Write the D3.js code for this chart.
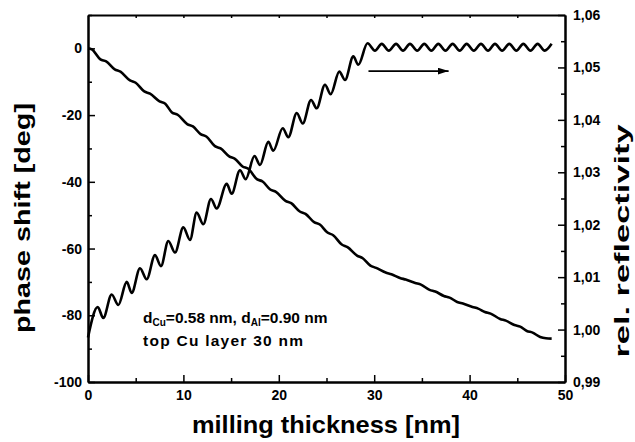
<!DOCTYPE html>
<html>
<head>
<meta charset="utf-8">
<script src="https://cdn.jsdelivr.net/npm/d3@7"></script>
<style>
  body { margin: 0; background: #fff; }
  svg { display: block; font-family: "Liberation Sans", Arial, sans-serif; }
  .axis text { font-size: 14px; font-weight: bold; fill: #000; }
  .axis path { stroke: #000; stroke-width: 2; }
  .axis line { stroke: #000; stroke-width: 1.5; }
</style>
</head>
<body>
<svg id="chart" width="635" height="442"></svg>
<script>
// phase shift [deg] vs milling thickness [nm] (left axis)
const phaseShift = [
  [0.0, 0.0], [0.4, -0.3],
  [1.3, -3.3], [1.9, -3.9],
  [2.8, -6.3], [3.4, -7.0],
  [4.4, -9.6], [5.0, -10.3],
  [5.9, -12.9], [6.5, -13.6],
  [7.5, -15.9], [8.1, -16.6],
  [8.8, -19.2], [9.4, -19.9],
  [10.4, -22.7], [11.0, -23.4],
  [11.8, -25.7], [12.4, -26.4],
  [13.3, -29.3], [13.9, -30.0],
  [14.8, -32.4], [15.4, -33.1],
  [16.2, -35.4], [16.8, -36.1],
  [17.7, -39.2], [18.3, -39.9],
  [19.1, -42.3], [19.7, -43.0],
  [20.7, -45.7], [21.3, -46.4],
  [22.2, -48.9], [22.8, -49.6],
  [23.7, -52.1], [24.3, -52.8],
  [25.1, -55.2], [25.7, -56.0],
  [26.6, -58.8], [27.2, -59.6],
  [28.2, -62.1], [28.8, -62.9],
  [29.6, -65.1], [30.2, -65.8],
  [31.2, -67.2], [31.8, -67.7],
  [32.7, -68.8], [33.3, -69.3],
  [34.3, -70.3], [34.9, -70.8],
  [35.8, -72.4], [36.4, -72.9],
  [37.3, -74.2], [37.9, -74.7],
  [38.7, -76.0], [39.3, -76.5],
  [40.3, -77.5], [40.9, -78.0],
  [41.6, -79.0], [42.2, -79.5],
  [43.2, -81.1], [43.8, -81.6],
  [44.7, -82.9], [45.3, -83.4],
  [46.0, -84.7], [46.6, -85.2],
  [47.4, -86.5], [48.0, -86.9],
  [48.6, -87.0]
];

// rel. reflectivity vs milling thickness [nm] (right axis), peaks and troughs
const reflectivity = [
  [0.00, 0.9985], [1.02, 1.0043], [1.60, 1.0022], [2.48, 1.0067], [3.18, 1.0047],
  [4.06, 1.0091], [4.58, 1.0070], [5.45, 1.0117], [6.15, 1.0096], [7.02, 1.0142],
  [7.65, 1.0121], [8.42, 1.0169], [9.12, 1.0147], [9.99, 1.0195], [10.69, 1.0171],
  [11.39, 1.0223], [12.09, 1.0201], [12.89, 1.0249], [13.49, 1.0231], [14.54, 1.0278],
  [15.06, 1.0259], [15.93, 1.0304], [16.53, 1.0287], [17.45, 1.0331], [18.03, 1.0314],
  [18.90, 1.0358], [19.42, 1.0341], [20.41, 1.0384], [21.00, 1.0367], [21.88, 1.0413],
  [22.51, 1.0393], [23.38, 1.0438], [23.97, 1.0422], [24.84, 1.0467], [25.44, 1.0449],
  [26.34, 1.0492], [26.94, 1.0476], [27.81, 1.0521], [28.33, 1.0505], [29.30, 1.0546],
  [30.08, 1.0532], [30.79, 1.0545], [31.53, 1.0532], [32.29, 1.0545], [33.02, 1.0532],
  [33.75, 1.0545], [34.51, 1.0532], [35.25, 1.0545], [35.99, 1.0532], [36.72, 1.0545],
  [37.47, 1.0532], [38.22, 1.0545], [38.96, 1.0532], [39.69, 1.0545], [40.44, 1.0532],
  [41.19, 1.0545], [41.93, 1.0532], [42.66, 1.0545], [43.41, 1.0532], [44.16, 1.0545],
  [44.90, 1.0532], [45.63, 1.0545], [46.38, 1.0532], [47.13, 1.0545], [47.87, 1.0532],
  [48.60, 1.0545]
];

const xTicks = [0, 10, 20, 30, 40, 50];
const xMinorTicks = [5, 15, 25, 35, 45];
const topTicks = [5, 10, 15, 20, 25, 30, 35, 40, 45];
const phaseTicks = [-100, -80, -60, -40, -20, 0];
const phaseMinorTicks = [-90, -70, -50, -30, -10, 10];
const reflTicks = [0.99, 1.00, 1.01, 1.02, 1.03, 1.04, 1.05, 1.06];
const reflMinorTicks = [0.995, 1.005, 1.015, 1.025, 1.035, 1.045, 1.055];

const margin = { top: 15, right: 70, bottom: 60, left: 88 };
const width = 635, height = 442;

const svg = d3.select('#chart');

const x = d3.scaleLinear().domain([0, 50]).range([margin.left, width - margin.right]);
const yPhase = d3.scaleLinear().domain([-100, 10]).range([height - margin.bottom, margin.top]);
const yRefl = d3.scaleLinear().domain([0.99, 1.06]).range([height - margin.bottom, margin.top]);

const bottom = height - margin.bottom;
const right = width - margin.right;

// plain hyphen minus like the original, not the unicode minus
const plain = d => String(d);

// minor ticks first (no labels)
svg.append('g').attr('class', 'axis')
    .attr('transform', `translate(0,${bottom})`)
    .call(d3.axisBottom(x).tickValues(xMinorTicks).tickSize(-4).tickSizeOuter(0).tickFormat(''));
svg.append('g').attr('class', 'axis')
    .attr('transform', `translate(0,${margin.top})`)
    .call(d3.axisTop(x).tickValues(topTicks).tickSize(-3).tickSizeOuter(0).tickFormat(''));
svg.append('g').attr('class', 'axis')
    .attr('transform', `translate(${margin.left},0)`)
    .call(d3.axisLeft(yPhase).tickValues(phaseMinorTicks).tickSize(-4).tickSizeOuter(0).tickFormat(''));
svg.append('g').attr('class', 'axis')
    .attr('transform', `translate(${right},0)`)
    .call(d3.axisRight(yRefl).tickValues(reflMinorTicks).tickSize(-4).tickSizeOuter(0).tickFormat(''));

// major ticks with labels
svg.append('g').attr('class', 'axis')
    .attr('transform', `translate(0,${bottom})`)
    .call(d3.axisBottom(x).tickValues(xTicks).tickSize(-7).tickSizeOuter(0).tickPadding(8).tickFormat(plain));
svg.append('g').attr('class', 'axis')
    .attr('transform', `translate(${margin.left},0)`)
    .call(d3.axisLeft(yPhase).tickValues(phaseTicks).tickSize(-7).tickSizeOuter(0).tickPadding(6).tickFormat(plain));
svg.append('g').attr('class', 'axis')
    .attr('transform', `translate(${right},0)`)
    .call(d3.axisRight(yRefl).tickValues(reflTicks).tickSize(-7).tickSizeOuter(0).tickPadding(8)
        .tickFormat(d => d3.format('.2f')(d).replace('.', ',')));

// curves
const phaseLine = d3.line()
    .x(d => x(d[0]))
    .y(d => yPhase(d[1]))
    .curve(d3.curveMonotoneX);
const reflLine = d3.line()
    .x(d => x(d[0]))
    .y(d => yRefl(d[1]))
    .curve(d3.curveMonotoneX);

svg.append('path')
    .datum(phaseShift)
    .attr('d', phaseLine)
    .attr('fill', 'none')
    .attr('stroke', '#000')
    .attr('stroke-width', 2.6);

svg.append('path')
    .datum(reflectivity)
    .attr('d', reflLine)
    .attr('fill', 'none')
    .attr('stroke', '#000')
    .attr('stroke-width', 2.6);

// arrow pointing to the right axis
svg.append('defs').append('marker')
    .attr('id', 'head')
    .attr('viewBox', '0 0 11 7')
    .attr('refX', 11).attr('refY', 3.5)
    .attr('markerWidth', 11).attr('markerHeight', 7)
    .attr('markerUnits', 'userSpaceOnUse')
    .attr('orient', 'auto')
  .append('path')
    .attr('d', 'M0,0 L11,3.5 L0,7 Z')
    .attr('fill', '#000');

svg.append('line')
    .attr('x1', x(29.4)).attr('x2', x(37.8))
    .attr('y1', yRefl(1.0493)).attr('y2', yRefl(1.0493))
    .attr('stroke', '#000')
    .attr('stroke-width', 1.6)
    .attr('marker-end', 'url(#head)');

// annotation
const note = svg.append('g')
    .style('font-size', '15.5px')
    .style('font-weight', 'bold');

const line1 = note.append('text').attr('x', x(5.77)).attr('y', yPhase(-82.3));
line1.append('tspan').text('d');
line1.append('tspan').attr('dy', 3).style('font-size', '10px').text('Cu');
line1.append('tspan').attr('dy', -3).text('=0.58 nm, d');
line1.append('tspan').attr('dy', 3).style('font-size', '10px').text('Al');
line1.append('tspan').attr('dy', -3).text('=0.90 nm');

note.append('text')
    .attr('x', x(5.77)).attr('y', yPhase(-89.2))
    .attr('textLength', 160).attr('lengthAdjust', 'spacing')
    .text('top Cu layer 30 nm');

// axis titles
svg.append('text')
    .attr('x', (192 + 460) / 2).attr('y', 433)
    .attr('text-anchor', 'middle')
    .attr('textLength', 268).attr('lengthAdjust', 'spacingAndGlyphs')
    .style('font-size', '24px').style('font-weight', 'bold')
    .text('milling thickness [nm]');

svg.append('text')
    .attr('transform', 'translate(30,218) rotate(-90)')
    .attr('text-anchor', 'middle')
    .attr('textLength', 230).attr('lengthAdjust', 'spacingAndGlyphs')
    .style('font-size', '22px').style('font-weight', 'bold')
    .text('phase shift [deg]');

svg.append('text')
    .attr('transform', 'translate(629,241) rotate(-90)')
    .attr('text-anchor', 'middle')
    .attr('textLength', 233).attr('lengthAdjust', 'spacingAndGlyphs')
    .style('font-size', '20px').style('font-weight', 'bold')
    .text('rel. reflectivity');
</script>
</body>
</html>
